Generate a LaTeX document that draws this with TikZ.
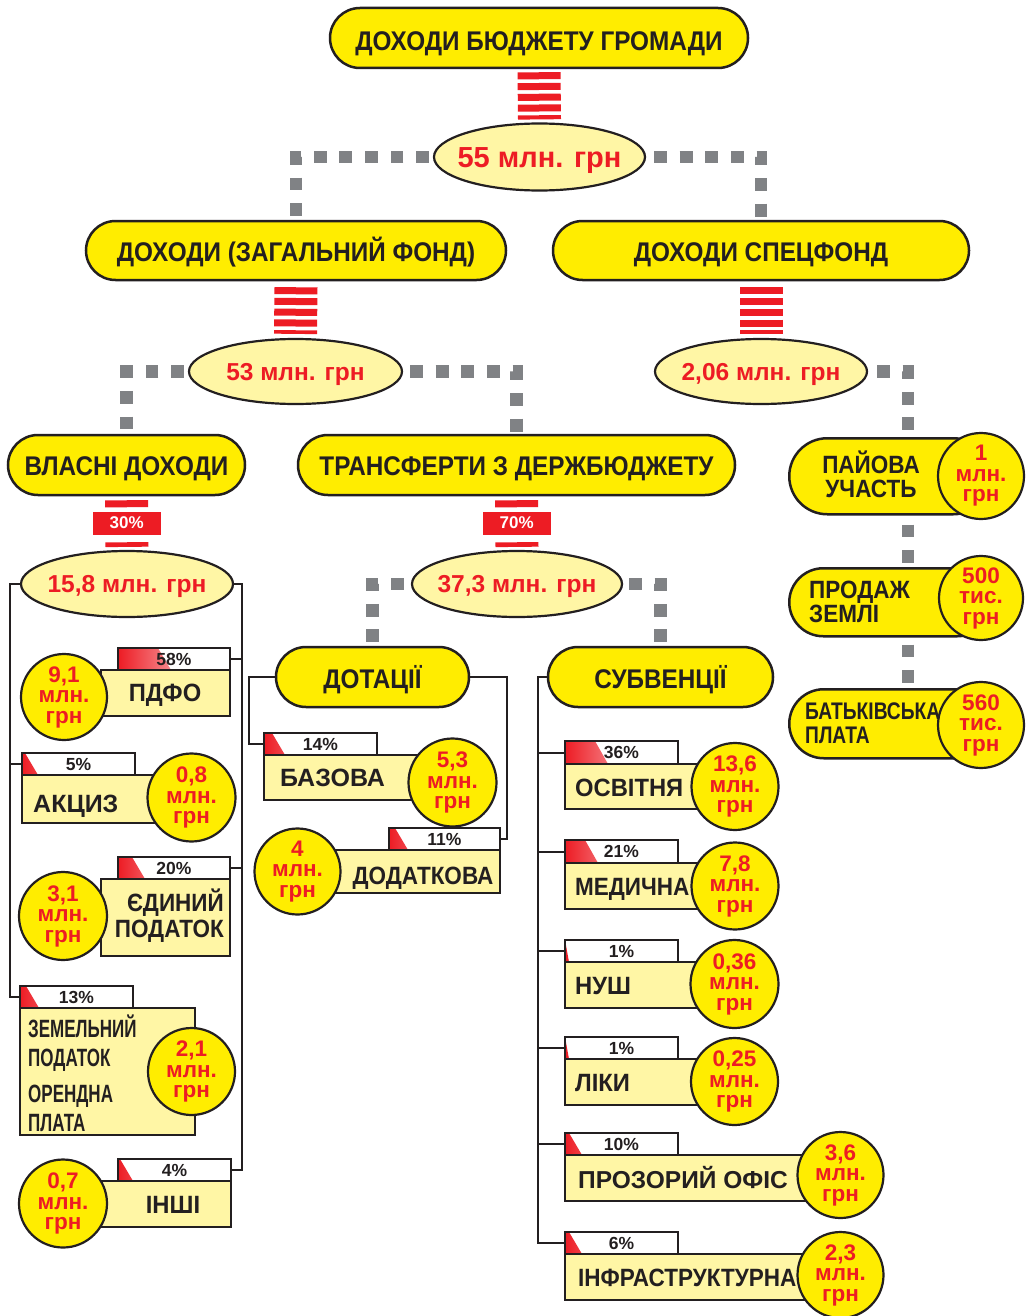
\documentclass[tikz,border=0pt]{standalone}
\usepackage{fontspec}
\setmainfont{Liberation Sans}
\newfontfamily\cond[FakeStretch=0.9]{Liberation Sans}
\newfontfamily\condb[FakeStretch=0.95]{Liberation Sans}
\newfontfamily\narr[FakeStretch=0.68]{Liberation Sans}
\newfontfamily\narrb[FakeStretch=0.8]{Liberation Sans}
\usetikzlibrary{shapes.geometric,calc}
\definecolor{cred}{HTML}{ED1C24}
\definecolor{cyel}{HTML}{FFED00}
\definecolor{clight}{HTML}{FFF6A5}
\definecolor{cgray}{HTML}{808285}
\definecolor{cblk}{HTML}{231F20}
\newcommand\pctfill[2]{\shade[left color=cred,right color=white]
  (path picture bounding box.south west) -- (path picture bounding box.north west)
  -- ($(path picture bounding box.north west)+(#1,0)$)
  -- ($(path picture bounding box.south west)+({#1+#2},0)$) -- cycle;}
\tikzset{
 pill/.style={rectangle, rounded corners=#1, draw=cblk, line width=2.5, fill=cyel, inner sep=0, text=cblk, text height=22.5, text depth=0, font=\cond\bfseries\fontsize{27}{30}\selectfont},
 ell/.style={ellipse, draw=cblk, line width=2.2, fill=clight, inner sep=0},
 etxt/.style={inner sep=0, text=cred, text height=17.5, text depth=0, font=\bfseries\fontsize{24.5}{28}\selectfont},
 stripes/.style={draw=cred, line width=43, dash pattern=on 7 off 3.75},
 stripeone/.style={draw=cred, line width=43, dash pattern=on 7 off 35},
 dots/.style={draw=cgray, line width=12.8, dash pattern=on 12.8 off 12.8},
 conn/.style={draw=cblk, line width=2},
 pctred/.style={fill=cred, minimum width=68, minimum height=23, inner sep=0, text=white, font=\bfseries\fontsize{17}{18}\selectfont},
 ibox/.style={draw=cblk, line width=2, fill=clight, inner sep=0, anchor=north west},
 pct/.style 2 args={draw=cblk, line width=2, fill=white, inner sep=0, anchor=north west, minimum height=22, text=cblk, font=\bfseries\fontsize{17.5}{18}\selectfont, path picture={\pctfill{#1}{#2}}},
 circ/.style={circle, draw=cblk, line width=2.2, fill=cyel, inner sep=0, text=cred, align=center, font=\bfseries\fontsize{22.5}{20.5}\selectfont},
 itxt/.style={inner sep=0, text=cblk, text height=18, text depth=0, font=\condb\bfseries\fontsize{25}{26}\selectfont},
 mtxt/.style={inner sep=0, text=cblk, font=\cond\bfseries\fontsize{25}{26}\selectfont},
 ptxt/.style={inner sep=0, text=cblk, font=\cond\bfseries\fontsize{25}{24}\selectfont},
 ntxt/.style={inner sep=0, text=cblk, font=\narr\bfseries\fontsize{25}{29}\selectfont},
}
\begin{document}
\begin{tikzpicture}[x=1pt,y=-1pt]
\useasboundingbox[fill=white] (0,0) rectangle (1027,1316);

% ---- upper levels
\node[pill=30, minimum width=418, minimum height=60, text height=26] (top) at (539,38) {ДОХОДИ БЮДЖЕТУ ГРОМАДИ};
\node[ell, minimum width=211, minimum height=67] (e55) at (539.5,157) {};
\node[etxt, text height=20.5, font=\bfseries\fontsize{29}{30}\selectfont] (t55) at (e55) {55 млн. грн};
\node[pill=29.5, minimum width=420, minimum height=59] (zf) at (296,250.5) {ДОХОДИ (ЗАГАЛЬНИЙ ФОНД)};
\node[pill=29.5, minimum width=416, minimum height=59] (sf) at (761,250.5) {ДОХОДИ СПЕЦФОНД};
\node[ell, minimum width=213, minimum height=65] (e53) at (295.5,371.5) {};
\node[etxt] (t53) at (e53) {53 млн. грн};
\node[ell, minimum width=212, minimum height=65] (e206) at (761,371.5) {};
\node[etxt] (t206) at (e206) {2,06 млн. грн};
\node[pill=30, minimum width=237, minimum height=60, text height=20] (vd) at (126.5,465) {ВЛАСНІ ДОХОДИ};
\node[pill=30, minimum width=437, minimum height=60, text height=20] (tr) at (516.5,465) {ТРАНСФЕРТИ З ДЕРЖБЮДЖЕТУ};
\node[ell, minimum width=212, minimum height=66] (e158) at (127,584) {};
\node[etxt] (t158) at (e158) {15,8 млн. грн};
\node[ell, minimum width=210, minimum height=66] (e373) at (517,584) {};
\node[etxt] (t373) at (e373) {37,3 млн. грн};
\node[pill=30, minimum width=193, minimum height=60] (dot) at (372.5,677) {ДОТАЦІЇ};
\node[pill=30, minimum width=225, minimum height=60] (sub) at (660.5,677) {СУБВЕНЦІЇ};

\draw[stripes] ($(top.south)+(0,3)$) -- ($(e55.north)+(0,-3)$);
\draw[stripes] ($(zf.south)+(0,6)$) -- ($(e53.north)+(0,-4)$);
\draw[stripes] ($(sf.south)+(0,6)$) -- ($(e206.north)+(0,-4)$);
\draw[stripeone] ($(vd.south)+(0,4)$) -- ($(e158.north)+(0,-3)$);
\draw[stripeone] ($(tr.south)+(0,4)$) -- ($(e373.north)+(0,-3)$);
\node[pctred] (p30) at ($(vd.south)!0.5!(e158.north)$) {30\%};
\node[pctred] (p70) at ($(tr.south)!0.5!(e373.north)$) {70\%};

\draw[dots] ($(e55.west)+(-4,0)$) -| (zf.north);
\draw[dots] ($(e55.east)+(8,0)$) -| (sf.north);
\draw[dots] ($(e53.west)+(-4,0)$) -| (vd.north);
\draw[dots] ($(e53.east)+(7,0)$) -| (tr.north);
\draw[dots] ($(e373.west)+(-7,0)$) -| (dot.north);
\draw[dots] ($(e373.east)+(6,0)$) -| (sub.north);

% ---- right column (spec fund)
\node[pill=38, minimum width=202, minimum height=76, anchor=north west] (pay) at (788,437) {};
\node[circ, minimum size=86] (cpay) at (981,476) {1\\млн.\\грн};
\node[ptxt, align=center] (tpay) at (871,474) {ПАЙОВА\\УЧАСТЬ};
\node[pill=34, minimum width=202, minimum height=68, anchor=north west] (prod) at (788,567) {};
\node[circ, minimum size=84] (cprod) at (981,598) {500\\тис.\\грн};
\node[ptxt, align=left, anchor=west] (tprod) at (809,602) {ПРОДАЖ\\ЗЕМЛІ};
\node[pill=34.5, minimum width=202, minimum height=69, anchor=north west] (bat) at (788,688) {};
\node[circ, minimum size=86] (cbat) at (981,725) {560\\тис.\\грн};
\node[inner sep=0, text=cblk, align=left, anchor=west, font=\narrb\bfseries\fontsize{24}{24}\selectfont] (tbat) at (805,723) {БАТЬКІВСЬКА\\ПЛАТА};

\coordinate (k1) at (908,371.5);
\draw[dots] ($(e206.east)+(9,0)$) -- (k1) -- (k1 |- pay.north);
\path (k1 |- pay.south) ++(0,9) coordinate (k2);
\draw[dots] (k2) -- (k1 |- prod.north);
\path (k1 |- prod.south) ++(0,7) coordinate (k3);
\draw[dots] (k3) -- (k1 |- bat.north);

% ---- own revenues
\node[ibox, minimum width=129, minimum height=46] (b1) at (100,669) {};
\node[pct={40}{13}, minimum width=112] (p58) at (117,647) {58\%};
\node[circ, minimum size=86] (c1) at (64,697) {9,1\\млн.\\грн};
\node[itxt] (t1) at (165,692.5) {ПДФО};

\node[ibox, minimum width=140, minimum height=48] (b2) at (21,774) {};
\node[pct={3}{13}, minimum width=113] (p5) at (21,752) {5\%};
\node[circ, minimum size=88] (c2) at (191.5,797.5) {0,8\\млн.\\грн};
\node[itxt, anchor=west, font=\bfseries\fontsize{25}{26}\selectfont] (t2) at (33,803) {АКЦИЗ};

\node[ibox, minimum width=129, minimum height=77] (b3) at (100,878) {};
\node[pct={14}{13}, minimum width=112] (p20) at (117,856) {20\%};
\node[circ, minimum size=88] (c3) at (63,916) {3,1\\млн.\\грн};
\node[mtxt, anchor=east, align=right] (t3) at (224,916) {ЄДИНИЙ\\ПОДАТОК};

\node[ibox, minimum width=175, minimum height=127] (b4) at (19,1007) {};
\node[pct={6}{13}, minimum width=113] (p13) at (19,985) {13\%};
\node[circ, minimum size=87] (c4) at (191.5,1071.5) {2,1\\млн.\\грн};
\node[ntxt, anchor=west, align=left] (t4a) at (28,1043) {ЗЕМЕЛЬНИЙ\\ПОДАТОК};
\node[ntxt, anchor=west, align=left] (t4b) at (28,1108) {ОРЕНДНА\\ПЛАТА};

\node[ibox, minimum width=130, minimum height=46] (b5) at (100,1180) {};
\node[pct={2}{13}, minimum width=113] (p4) at (117,1158) {4\%};
\node[circ, minimum size=88] (c5) at (63,1203.5) {0,7\\млн.\\грн};
\node[itxt] (t5) at (173,1204) {ІНШІ};

\coordinate (lv) at (10,0);
\coordinate (rv) at (242,0);
\draw[conn] (e158.west) -| (lv |- p13.west) -- (p13.west);
\draw[conn] (p5.west) -- (p5.west -| lv);
\draw[conn] (e158.east) -| (rv |- p4.east) -- (p4.east);
\draw[conn] (p58.east) -- (p58.east -| rv);
\draw[conn] (p20.east) -- (p20.east -| rv);

% ---- grants (dotatsii)
\node[ibox, minimum width=160, minimum height=45] (b6) at (263,754) {};
\node[pct={8}{13}, minimum width=113] (p14) at (263,732) {14\%};
\node[circ, minimum size=88] (c6) at (452.5,782.5) {5,3\\млн.\\грн};
\node[itxt, anchor=west, font=\bfseries\fontsize{25}{26}\selectfont] (t6) at (280,777) {БАЗОВА};

\node[ibox, minimum width=199, minimum height=43] (b7) at (300,849) {};
\node[pct={6}{13}, minimum width=111] (p11) at (388,827) {11\%};
\node[circ, minimum size=86] (c7) at (297.5,871.5) {4\\млн.\\грн};
\node[itxt, font=\cond\bfseries\fontsize{25}{26}\selectfont] (t7) at (423,875) {ДОДАТКОВА};

\coordinate (dl) at (249,0);
\coordinate (dr) at (507,0);
\draw[conn] (dot.west) -| (dl |- p14.west) -- (p14.west);
\draw[conn] (dot.east) -| (dr |- p11.east) -- (p11.east);

% ---- subventions
\node[ibox, minimum width=140, minimum height=45] (b8) at (564,763) {};
\node[pct={30}{13}, minimum width=113, minimum height=23] (p36) at (564,740) {36\%};
\node[circ, minimum size=87] (c8) at (735,786.5) {13,6\\млн.\\грн};
\node[itxt, anchor=west] (t8) at (575,787) {ОСВІТНЯ};

\node[ibox, minimum width=140, minimum height=46] (b9) at (564,862) {};
\node[pct={20}{13}, minimum width=113, minimum height=23] (p21) at (564,839) {21\%};
\node[circ, minimum size=87] (c9) at (735,886) {7,8\\млн.\\грн};
\node[itxt, anchor=west, font=\cond\bfseries\fontsize{25}{26}\selectfont] (t9) at (575,886) {МЕДИЧНА};

\node[ibox, minimum width=140, minimum height=46] (b10) at (564,961) {};
\node[pct={0}{4}, minimum width=113] (p1a) at (564,939) {1\%};
\node[circ, minimum size=88] (c10) at (734.5,984) {0,36\\млн.\\грн};
\node[itxt, anchor=west] (t10) at (575,985) {НУШ};

\node[ibox, minimum width=140, minimum height=46] (b11) at (564,1058) {};
\node[pct={0}{4}, minimum width=113] (p1b) at (564,1036) {1\%};
\node[circ, minimum size=87] (c11) at (734.5,1081.5) {0,25\\млн.\\грн};
\node[itxt, anchor=west] (t11) at (575,1082) {ЛІКИ};

\node[ibox, minimum width=250, minimum height=46] (b12) at (564,1154) {};
\node[pct={4}{13}, minimum width=113] (p10) at (564,1132) {10\%};
\node[circ, minimum size=86] (c12) at (840.5,1175) {3,6\\млн.\\грн};
\node[itxt, anchor=west, font=\bfseries\fontsize{24.5}{26}\selectfont] (t12) at (578,1179) {ПРОЗОРИЙ ОФІС};

\node[ibox, minimum width=250, minimum height=46] (b13) at (564,1253) {};
\node[pct={4}{13}, minimum width=113] (p6) at (564,1231) {6\%};
\node[circ, minimum size=86] (c13) at (840.5,1275) {2,3\\млн.\\грн};
\node[itxt, anchor=west, font=\cond\bfseries\fontsize{25}{26}\selectfont] (t13) at (578,1277) {ІНФРАСТРУКТУРНА};

\coordinate (sl) at (538,0);
\draw[conn] (sub.west) -| (sl |- p6.west) -- (p6.west);
\foreach \p in {p36,p21,p1a,p1b,p10} \draw[conn] (\p.west) -- (\p.west -| sl);
\end{tikzpicture}
\end{document}
